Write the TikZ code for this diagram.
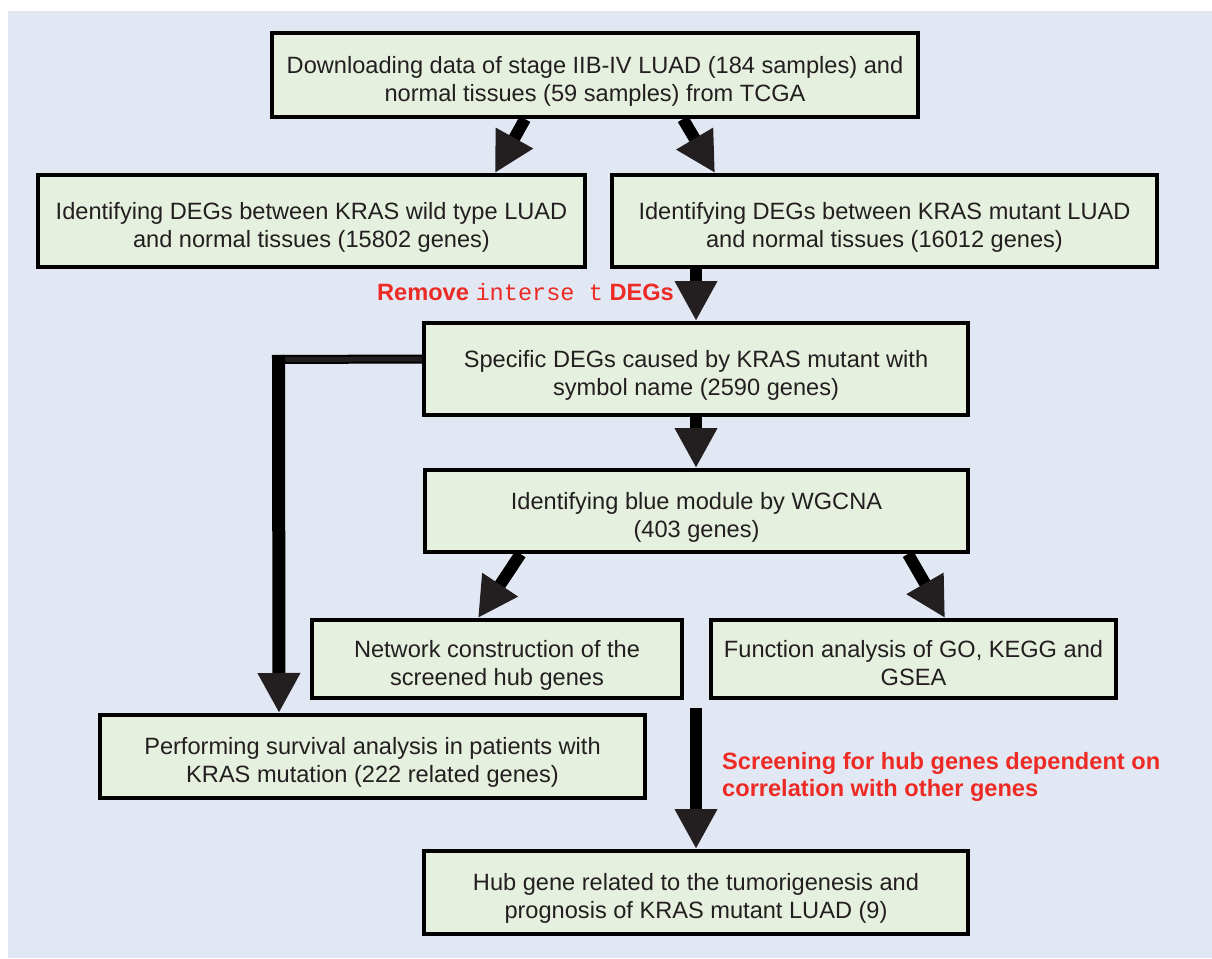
\documentclass[tikz,border=0pt]{standalone}
\usepackage{fontspec}
\setmainfont{Liberation Sans}
\newfontfamily\monofont{Liberation Mono}
\usetikzlibrary{arrows.meta,calc}
\definecolor{panelbg}{HTML}{E1E8F4}
\definecolor{boxfill}{HTML}{E6F0DF}
\definecolor{txt}{HTML}{231F20}
\definecolor{redtxt}{HTML}{EE2A24}
\definecolor{headcol}{HTML}{231F20}
\tikzset{
  flowbox/.style={draw=black,line width=4pt,fill=boxfill,text=txt,align=center,
    inner sep=0pt,font=\fontsize{23.6}{28}\selectfont,
    text height=58pt,text depth=6pt},
  bigarrow/.style={draw=black,line width=12pt,
    -{Triangle[length=40pt,width=40pt,color=headcol,fill=headcol]}},
  redlabel/.style={text=redtxt,font=\fontsize{23.6}{27}\selectfont\bfseries,inner sep=0pt}
}
\begin{document}
\begin{tikzpicture}[x=1pt,y=-1pt]
\useasboundingbox (0,0) rectangle (1212,958);
\fill[panelbg] (8,11) rectangle (1212,958);

\node[flowbox,minimum width=646pt,minimum height=84pt] (top) at (595,75)
  {Downloading data of stage IIB-IV LUAD (184 samples) and\\normal tissues (59 samples) from TCGA};
\node[flowbox,minimum width=547pt,minimum height=92pt] (lbox) at (311.5,221)
  {Identifying DEGs between KRAS wild type LUAD\\and normal tissues (15802 genes)};
\node[flowbox,minimum width=545pt,minimum height=92pt] (rbox) at (884.5,221)
  {Identifying DEGs between KRAS mutant LUAD\\and normal tissues (16012 genes)};
\node[flowbox,minimum width=544pt,minimum height=92pt] (spec) at (696,369)
  {Specific DEGs caused by KRAS mutant with\\symbol name (2590 genes)};
\node[flowbox,minimum width=543pt,minimum height=82pt] (wgcna) at (696.5,511)
  {Identifying blue module by WGCNA\\(403 genes)};
\node[flowbox,minimum width=370pt,minimum height=78pt] (net) at (497,659)
  {Network construction of the\\screened hub genes};
\node[flowbox,minimum width=405pt,minimum height=78pt] (func) at (913.5,659)
  {Function analysis of GO, KEGG and\\GSEA};
\node[flowbox,minimum width=545pt,minimum height=83pt] (perf) at (372.5,756.5)
  {Performing survival analysis in patients with\\KRAS mutation (222 related genes)};
\node[flowbox,minimum width=544pt,minimum height=83pt] (hub) at (696,892.5)
  {Hub gene related to the tumorigenesis and\\prognosis of KRAS mutant LUAD (9)};

% arrows
\draw[bigarrow] ([xshift=-70pt]top.south) -- ([xshift=183.5pt]lbox.north);
\draw[bigarrow] ([xshift=88pt]top.south) -- ([xshift=-169.5pt]rbox.north);
\draw[bigarrow] ([xshift=-188.5pt]rbox.south) -- (spec.north);
\draw[bigarrow] (spec.south) -- ([xshift=-0.5pt]wgcna.north);
\draw[bigarrow] ([xshift=-176pt]wgcna.south) -- ([xshift=-19pt]net.north);
\draw[bigarrow] ([xshift=211.5pt]wgcna.south) -- ([xshift=31.5pt]func.north);

\coordinate (corner) at (278.5,355);
\draw[black,line width=9pt] ([yshift=10pt]spec.west) -- (272,359.5);
\draw[headcol,line width=5pt] ([yshift=10pt]spec.west) -- (282,359.5);
\draw[bigarrow,line width=13pt] (corner) -- ([xshift=-93.5pt]perf.north);

\coordinate (hubstart) at (696,708);
\draw[bigarrow] (hubstart) -- (hub.north);

% labels
\node[redlabel,anchor=east] (rem) at (674,292)
  {Remove {\monofont\mdseries interse t} DEGs};
\node[redlabel,anchor=west,align=left] (scr) at (722,777)
  {Screening for hub genes dependent on\\correlation with other genes};
\end{tikzpicture}
\end{document}
